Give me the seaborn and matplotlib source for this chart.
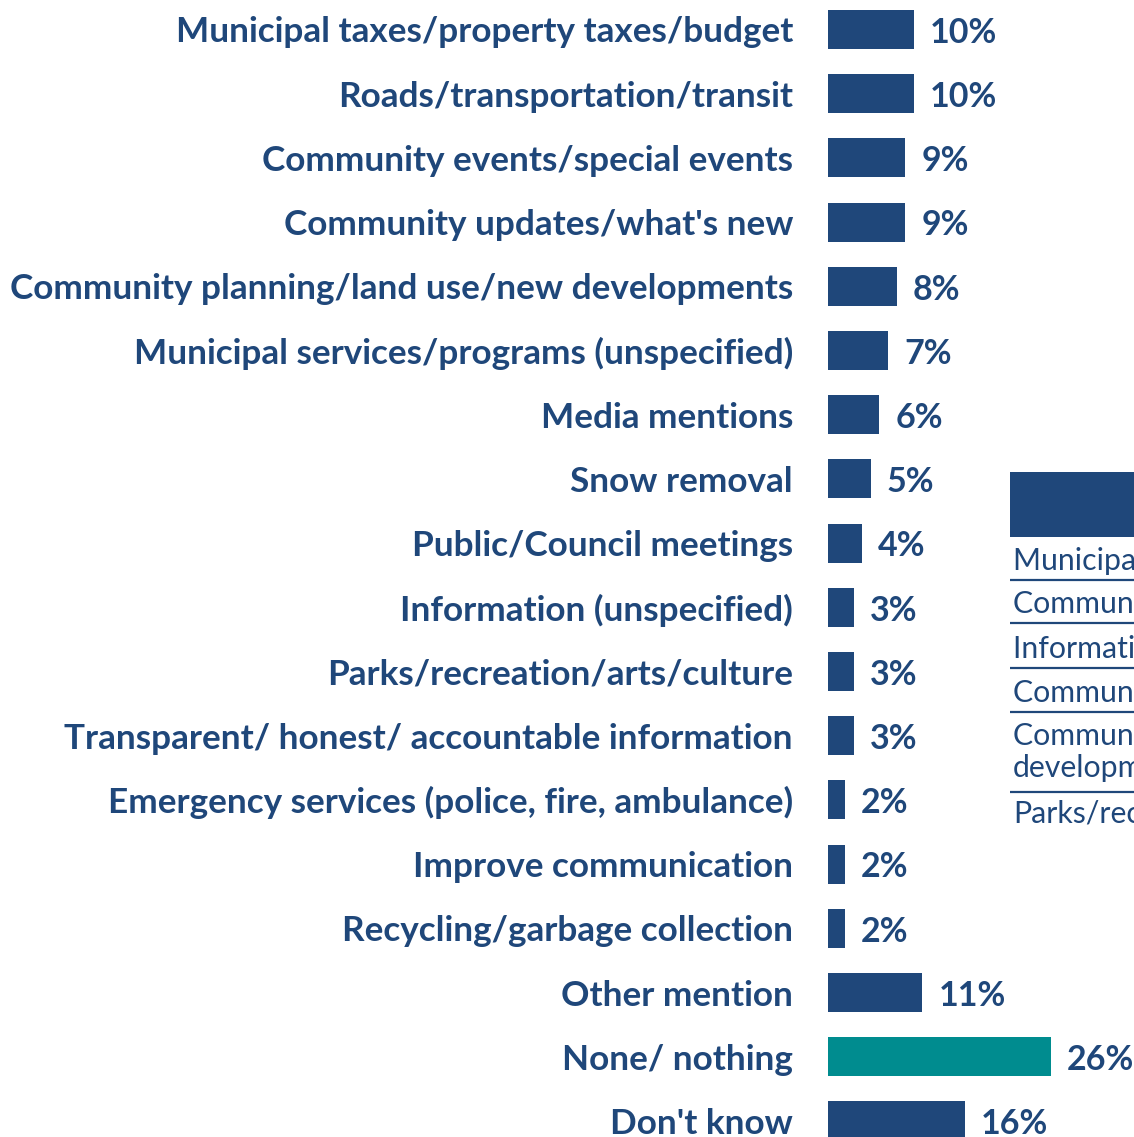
import matplotlib
matplotlib.use("Agg")
import matplotlib.pyplot as plt
import seaborn as sns
import pandas as pd
from matplotlib.patches import Rectangle

categories = [
    "Municipal taxes/property taxes/budget",
    "Roads/transportation/transit",
    "Community events/special events",
    "Community updates/what's new",
    "Community planning/land use/new developments",
    "Municipal services/programs (unspecified)",
    "Media mentions",
    "Snow removal",
    "Public/Council meetings",
    "Information (unspecified)",
    "Parks/recreation/arts/culture",
    "Transparent/ honest/ accountable information",
    "Emergency services (police, fire, ambulance)",
    "Improve communication",
    "Recycling/garbage collection",
    "Other mention",
    "None/ nothing",
    "Don't know",
]
values = [10, 10, 9, 9, 8, 7, 6, 5, 4, 3, 3, 3, 2, 2, 2, 11, 26, 16]
value_labels = ["10%", "10%", "9%", "9%", "8%", "7%", "6%", "5%", "4%", "3%",
                "3%", "3%", "2%", "2%", "2%", "11%", "26%", "16%"]
highlight = "None/ nothing"

# text lines of the neighbouring table fragment (clipped at the right edge)
side_lines = [
    "Municipal taxes/property taxes/budget",
    "Community events/special events",
    "Information (unspecified)",
    "Community updates/what's new",
    "Community planning/land use/new",
    "developments",
    "Parks/recreation/arts/culture",
]

NAVY = "#1F477A"
TEAL = "#008C8F"
TEXT = "#1F477A"

sns.set_theme(style="white")
plt.rcParams["font.family"] = ["Lato", "DejaVu Sans"]

W, H = 1134, 1137
fig = plt.figure(figsize=(W / 100, H / 100), dpi=100)

ax_left = 828
ax = fig.add_axes([ax_left / W, 0, (W - ax_left) / W, 1])

df = pd.DataFrame({"category": categories, "value": values})
palette = {c: (TEAL if c == highlight else NAVY) for c in categories}
sns.barplot(data=df, x="value", y="category", hue="category", palette=palette,
            orient="h", width=0.61, ax=ax, legend=False, saturation=1,
            linewidth=0)

px_per_unit = 8.57
ax.set_xlim(0, (W - ax_left) / px_per_unit)
row_px = 64.2
top_center = 29.5
ax.set_ylim((H - top_center) / row_px, -top_center / row_px)

for s in ax.spines.values():
    s.set_visible(False)
ax.set_xlabel("")
ax.set_ylabel("")
ax.set_xticks([])

renderer = fig.canvas.get_renderer()
probe = fig.text(0, 0, "Community planning/land use/new developments",
                 fontsize=20, fontweight="bold")
w20 = probe.get_window_extent(renderer).width
probe.remove()
fs = 20 * 781 / w20

ax.tick_params(axis="y", length=0, pad=35 * 72 / 100, labelsize=fs,
               labelcolor=TEXT)
for t in ax.get_yticklabels():
    t.set_fontweight("bold")

offset = 16 / px_per_unit
for i, (v, lab) in enumerate(zip(values, value_labels)):
    ax.text(v + offset, i + 0.05, lab, ha="left", va="center", fontsize=fs * 0.97,
            fontweight="bold", color=TEXT)

tx0 = 1010
ax2 = fig.add_axes([tx0 / W, 0, (W - tx0) / W, 1])
ax2.set_xlim(tx0, W)
ax2.set_ylim(H, 0)
ax2.axis("off")
ax2.add_patch(Rectangle((tx0, 472), W - tx0, 65, color=NAVY, lw=0))
small_fs = fs * 20.7 / 24
baselines = [570, 613, 658, 702, 745, 777, 822]
for txt, yb in zip(side_lines, baselines):
    ax2.text(1013, yb, txt, ha="left", va="baseline", fontsize=small_fs,
             color=TEXT, clip_on=True)
for yl in [580, 623, 668, 712, 792]:
    ax2.plot([tx0, W], [yl, yl], color=NAVY, lw=1.6, clip_on=True)

fig.savefig("out.png", dpi=100)
